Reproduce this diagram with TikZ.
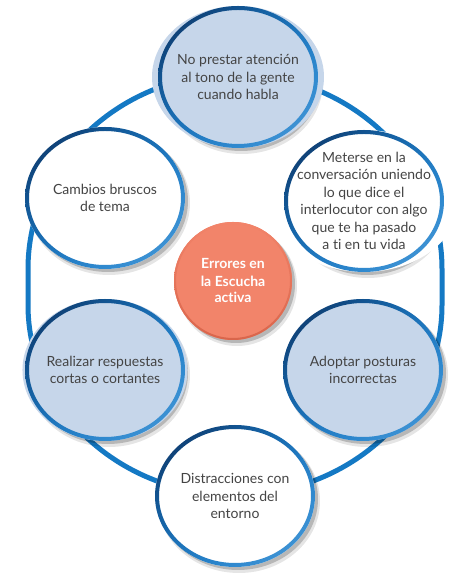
\documentclass[tikz,border=0pt]{standalone}
\usepackage{fontspec}
\setmainfont{Lato}[Ligatures=NoCommon]
\usetikzlibrary{shapes.geometric,shadings}
\definecolor{ringblue}{HTML}{1479C4}
\definecolor{navy}{HTML}{0B2E5C}
\definecolor{midblue}{HTML}{1878C4}
\definecolor{lightrim}{HTML}{4A9DDC}
\definecolor{paleblue}{HTML}{C6D6EA}
\definecolor{txtgray}{HTML}{444444}
\definecolor{salmon}{HTML}{F2846A}
\definecolor{salmondark}{HTML}{D9654B}
\tikzset{
  bubble/.style={ellipse, minimum width=160pt, minimum height=142pt, inner sep=0pt,
    align=center, text=txtgray, font=\fontsize{14}{17.5}\selectfont},
  palefill/.style={fill=paleblue},
  whitefill/.style={fill=white},
  shadowa/.style={fill=black, opacity=0.10},
  shadowb/.style={fill=black, opacity=0.20},
  rim/.style={even odd rule, upper left=navy, upper right=midblue, lower left=midblue, lower right=lightrim},
  ringline/.style={draw=ringblue, line width=5pt},
}
\begin{document}
\begin{tikzpicture}[x=1pt,y=1pt]
\fill[white] (0,0) rectangle (474,580);
\useasboundingbox (0,0) rectangle (474,580);
% positions
\coordinate (pT) at (238,503);
\coordinate (pUR) at (364,379);
\coordinate (pUL) at (105,382);
\coordinate (pLL) at (105,210);
\coordinate (pLR) at (363,210);
\coordinate (pB) at (235,84);
\coordinate (pC) at (233,299);
% ring
\path[ringline] (28,311) arc[start angle=180, end angle=0, x radius=207pt, y radius=195pt]
  -- (442,275) arc[start angle=0, end angle=-180, x radius=207pt, y radius=190pt] -- cycle;
% shadows
\foreach \p in {pT,pUR,pUL,pLL,pLR,pB}{
  \fill[shadowa] ([shift={(4,-5)}]\p) ellipse [x radius=81pt, y radius=72pt];
  \fill[shadowb] ([shift={(3,-3)}]\p) ellipse [x radius=80pt, y radius=71pt];
}
\fill[shadowa] ([shift={(4,-5)}]pC) circle [radius=60pt];
\fill[shadowb] ([shift={(3,-3)}]pC) circle [radius=59pt];
% nodes
\node[bubble, palefill] (T) at (pT) {No prestar atención\\al tono de la gente\\cuando habla};
\node[bubble, whitefill] (UR) at (pUR) {Meterse en la\\conversación uniendo\\lo que dice el\\interlocutor con algo\\que te ha pasado\\a ti en tu vida};
\node[bubble, whitefill] (UL) at (pUL) {Cambios bruscos\\de tema};
\node[bubble, palefill] (LL) at (pLL) {Realizar respuestas\\cortas o cortantes};
\node[bubble, palefill] (LR) at (pLR) {Adoptar posturas\\incorrectas};
\node[bubble, whitefill] (B) at (pB) {Distracciones con\\elementos del\\entorno};
\node[circle, minimum size=118pt, inner sep=0pt, fill=salmon, text=white, align=center,
  font=\bfseries\fontsize{14}{17}\selectfont] (C) at (pC) {Errores en\\la Escucha\\activa};
% rims
\foreach \n in {T,UR,UL,LL,LR,B}{
  \shade[rim] (\n.center) ellipse [x radius=80pt, y radius=71pt]
    (\n.center) ellipse [x radius=76pt, y radius=67pt];
}
\shade[even odd rule, upper left=salmon, upper right=salmon, lower left=salmondark, lower right=salmondark]
  (C.center) circle [radius=59pt] (C.center) circle [radius=57pt];
\end{tikzpicture}
\end{document}
